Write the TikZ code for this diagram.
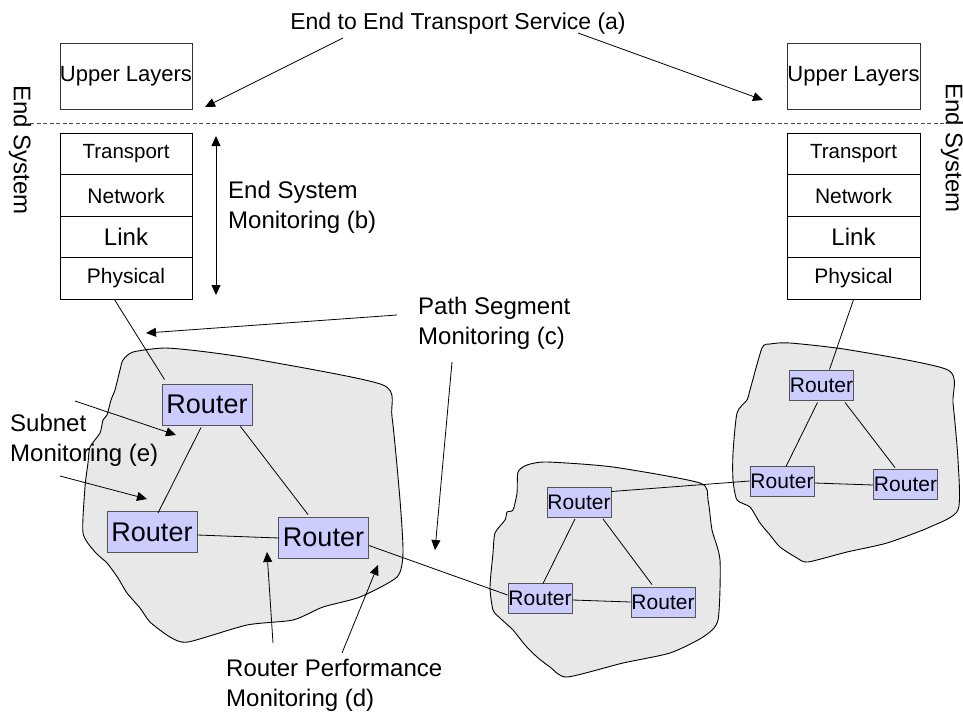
\documentclass[tikz,border=0pt]{standalone}
\usepackage{fontspec}
\setmainfont{Liberation Sans}
\usetikzlibrary{arrows.meta,calc}
\definecolor{blobgray}{HTML}{E8E8E8}
\definecolor{routerfill}{HTML}{CCCCFF}
\definecolor{routeredge}{HTML}{555555}
\begin{document}
\begin{tikzpicture}[x=1pt,y=-1pt,
  layer/.style={draw=black, line width=0.9pt, inner sep=0pt, minimum height=41.5pt},
  upper/.style={draw=black!80, line width=0.9pt, inner sep=0pt, minimum height=66pt},
  bigrouter/.style={draw=routeredge, fill=routerfill, line width=0.9pt, inner sep=0pt, minimum width=90pt, minimum height=41pt, font=\fontsize{27}{30}\selectfont},
  smallrouter/.style={draw=routeredge, fill=routerfill, line width=0.9pt, inner sep=0pt, minimum width=64pt, minimum height=30pt, font=\fontsize{21}{24}\selectfont},
  blob/.style={draw=black, fill=blobgray, line width=0.9pt},
  link/.style={draw=black, line width=0.8pt},
  note/.style={inner sep=0pt, align=left, anchor=west, font=\fontsize{24}{30}\selectfont},
  pointer/.style={draw=black, line width=0.8pt, -{Triangle[length=10pt,width=9pt]}},
  twoway/.style={draw=black, line width=0.8pt, {Triangle[length=10pt,width=9pt]}-{Triangle[length=10pt,width=9pt]}}
]
\useasboundingbox (0,0) rectangle (963,715);
\fill[white] (0,0) rectangle (963,715);

% blobs
\draw[blob] plot[smooth cycle, tension=0.4] coordinates {(165,348) (207,352) (260,360) (383,385) (392,417) (400,500) (403,553) (397,577) (360,597) (323,607) (293,620) (247,625) (188,642) (170,637) (150,622) (140,608) (127,593) (118,578) (107,563) (95,552) (83,533) (85,487) (88,463) (90,447) (100,433) (103,420) (107,415) (111,400) (115,390) (120,370) (123,360) (133,352)};
\draw[blob] plot[smooth cycle, tension=0.4] coordinates {(518,472) (527,465) (547,462) (613,467) (700,483) (708,500) (712,530) (720,560) (718,620) (703,637) (670,653) (623,663) (567,677) (550,667) (537,657) (525,645) (513,630) (500,618) (493,610) (490,587) (493,553) (495,533) (505,520) (507,512) (513,510) (517,493)};
\draw[blob] plot[smooth cycle, tension=0.4] coordinates {(762,348) (770,344) (790,343) (850,350) (948,370) (953,403) (958,460) (958,510) (930,527) (887,543) (847,552) (808,562) (797,558) (780,547) (770,535) (760,523) (750,507) (737,500) (733,480) (733,453) (737,413) (747,400) (750,390)};

% dashed boundary
\coordinate (dl) at (30,123);
\coordinate (dr) at (945,123);
\draw[dash pattern=on 4pt off 2.5pt, line width=0.8pt, draw=black!70] (dl) -- (dr);

% left stack
\node[upper, minimum width=132pt, font=\fontsize{22}{26}\selectfont] (lup) at (126,76) {Upper Layers};
\node[layer, minimum width=132pt, font=\fontsize{20.5}{24}\selectfont] (ltr) at (126,154) {Transport};
\node[layer, minimum width=132pt, font=\fontsize{21}{24}\selectfont] (lnet) at (126,195.5) {Network};
\node[layer, minimum width=132pt, font=\fontsize{24}{28}\selectfont] (llink) at (126,237) {Link};
\node[layer, minimum width=132pt, font=\fontsize{21}{24}\selectfont] (lphys) at (126,278.5) {Physical};

% right stack
\node[upper, minimum width=133pt, font=\fontsize{22}{26}\selectfont] (rup) at (853.5,76) {Upper Layers};
\node[layer, minimum width=133pt, font=\fontsize{20.5}{24}\selectfont] (rtr) at (853.5,154) {Transport};
\node[layer, minimum width=133pt, font=\fontsize{21}{24}\selectfont] (rnet) at (853.5,195.5) {Network};
\node[layer, minimum width=133pt, font=\fontsize{24}{28}\selectfont] (rlink) at (853.5,237) {Link};
\node[layer, minimum width=133pt, font=\fontsize{21}{24}\selectfont] (rphys) at (853.5,278.5) {Physical};

% End System labels
\node[rotate=-90, inner sep=0pt, font=\fontsize{24}{28}\selectfont] (lend) at (20,150) {End System};
\node[rotate=-90, inner sep=0pt, font=\fontsize{24}{28}\selectfont] (rend) at (952,148) {End System};

% routers
\node[bigrouter] (lr1) at (207,404.5) {Router};
\node[bigrouter] (lr2) at (152,532) {Router};
\node[bigrouter] (lr3) at (323.5,537.5) {Router};
\node[smallrouter] (mr1) at (579,502.5) {Router};
\node[smallrouter] (mr2) at (540,598) {Router};
\node[smallrouter] (mr3) at (663,602) {Router};
\node[smallrouter] (rr1) at (821.5,385) {Router};
\node[smallrouter] (rr2) at (782,481) {Router};
\node[smallrouter] (rr3) at (905.5,484) {Router};

% links
\draw[link] ($(lphys.south west)+(55,0)$) -- ($(lr1.north west)+(3,-4)$);
\draw[link] ($(lr1.south)+(-6,2)$) -- ($(lr2.north)+(6,2)$);
\draw[link] ($(lr1.south east)+(-12,1)$) -- ($(lr3.north)+(-15.5,-2)$);
\draw[link] ($(lr2.east)+(0,3)$) -- ($(lr3.west)+(1,0.5)$);
\draw[link] ($(lr3.east)+(0,8)$) -- ($(mr2.west)+(0,-3)$);
\draw[link] ($(mr1.east)+(0,-11)$) -- (rr2.west);
\draw[link] ($(mr1.south)+(-4,1)$) -- ($(mr2.north)+(3,1)$);
\draw[link] ($(mr1.south)+(24,1)$) -- ($(mr3.north)+(-11,-2)$);
\draw[link] ($(mr2.east)+(0,2)$) -- (mr3.west);
\draw[link] ($(rphys.south)+(0,0)$) -- ($(rr1.north)+(8,0)$);
\draw[link] ($(rr1.south)+(-4,2)$) -- ($(rr2.north)+(4,1)$);
\draw[link] ($(rr1.south)+(23.5,2)$) -- ($(rr3.north)+(-10.5,-1)$);
\draw[link] ($(rr2.east)+(0,2)$) -- ($(rr3.west)+(0,1)$);

% annotations
\node[inner sep=0pt, font=\fontsize{23}{28}\selectfont] (ta) at (458,24) {End to End Transport Service (a)};
\coordinate (ta1) at (343,38);
\coordinate (ta2) at (578,33);
\coordinate (ta1t) at (205,107);
\coordinate (ta2t) at (763,100);
\draw[pointer] (ta1) -- (ta1t);
\draw[pointer] (ta2) -- (ta2t);

\node[note] (tb) at (228,207) {End System\\Monitoring (b)};
\coordinate (tbtop) at (216,136);
\coordinate (tbbot) at (216,295);
\draw[twoway] (tbtop) -- (tbbot);

\node[note] (tc) at (418,323) {Path Segment\\Monitoring (c)};
\coordinate (tc1) at (397,315);
\coordinate (tc1t) at (146,333);
\coordinate (tc2) at (452,362);
\coordinate (tc2t) at (435,550);
\draw[pointer] (tc1) -- (tc1t);
\draw[pointer] (tc2) -- (tc2t);

\node[note] (te) at (10,440) {Subnet\\Monitoring (e)};
\coordinate (te1) at (75,401);
\coordinate (te1t) at (176,435);
\coordinate (te2) at (60,476);
\coordinate (te2t) at (147,499);
\draw[pointer] (te1) -- (te1t);
\draw[pointer] (te2) -- (te2t);

\node[note] (td) at (226,685) {Router Performance\\Monitoring (d)};
\coordinate (td1) at (273,643);
\coordinate (td1t) at (267,552);
\coordinate (td2) at (342,653);
\coordinate (td2t) at (378,565);
\draw[pointer] (td1) -- (td1t);
\draw[pointer] (td2) -- (td2t);
\end{tikzpicture}
\end{document}
